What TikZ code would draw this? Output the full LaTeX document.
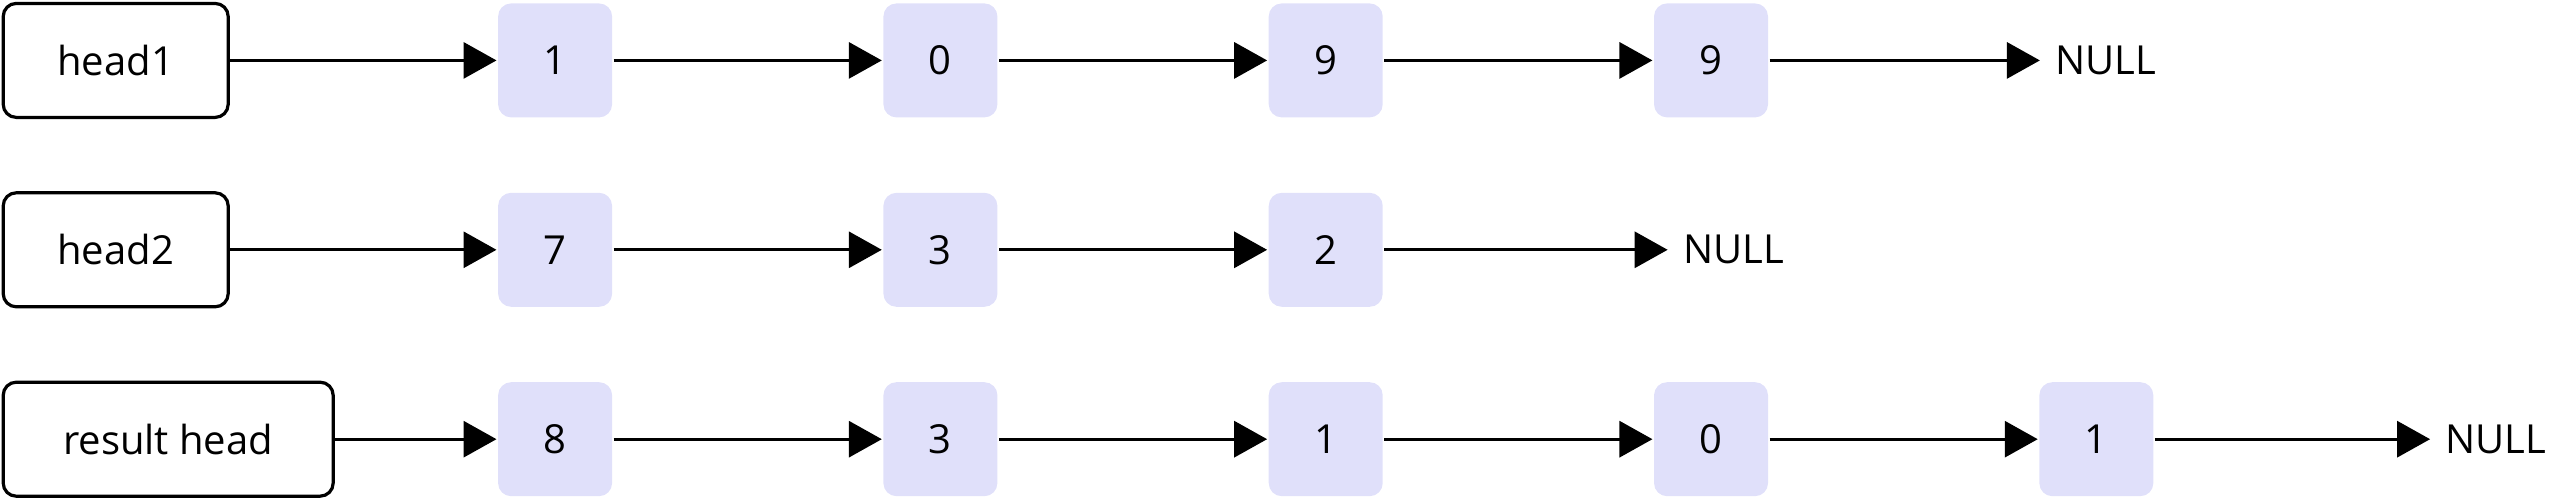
\documentclass[tikz,border=0pt]{standalone}
\usepackage{fontspec}
\setmainfont{Open Sans}
\usetikzlibrary{arrows.meta,positioning}
\definecolor{cellfill}{RGB}{224,224,250}
\tikzset{every picture/.style={line width=3.2pt}}
\tikzset{
  headbox/.style={draw=black,fill=white,rounded corners=13pt,minimum height=114pt,anchor=west,
    font=\fontsize{40}{46}\selectfont},
  cellbox/.style={fill=cellfill,rounded corners=13pt,minimum width=114pt,minimum height=114pt,
    font=\fontsize{40}{46}\selectfont},
  nulltext/.style={anchor=west,inner sep=0pt,font=\fontsize{40}{46}\selectfont},
  link/.style={-{Triangle[length=33pt,width=36pt]},line width=3.2pt}
}
\begin{document}
\begin{tikzpicture}[x=1.633pt,y=1.633pt,yscale=-1]
\useasboundingbox (0,0) rectangle (1568,307);

% first list
\node [headbox,minimum width=225pt] (h1) at (1,37) {head1};
\node [cellbox] (a1) at (340,37) {1};
\node [cellbox] (a2) at (576,37) {0};
\node [cellbox] (a3) at (812,37) {9};
\node [cellbox] (a4) at (1048,37) {9};
\node [nulltext] (n1) at (1258,37) {NULL};
\draw [link] (h1) -- (a1);
\draw [link] (a1) -- (a2);
\draw [link] (a2) -- (a3);
\draw [link] (a3) -- (a4);
\draw [link] (a4) -- ([xshift=-14pt]n1.west);

% second list
\node [headbox,minimum width=225pt] (h2) at (1,153) {head2};
\node [cellbox] (b1) at (340,153) {7};
\node [cellbox] (b2) at (576,153) {3};
\node [cellbox] (b3) at (812,153) {2};
\node [nulltext] (n2) at (1030,153) {NULL};
\draw [link] (h2) -- (b1);
\draw [link] (b1) -- (b2);
\draw [link] (b2) -- (b3);
\draw [link] (b3) -- ([xshift=-14pt]n2.west);

% result list
\node [headbox,minimum width=330pt] (h3) at (1,269) {result head};
\node [cellbox] (c1) at (340,269) {8};
\node [cellbox] (c2) at (576,269) {3};
\node [cellbox] (c3) at (812,269) {1};
\node [cellbox] (c4) at (1048,269) {0};
\node [cellbox] (c5) at (1284,269) {1};
\node [nulltext] (n3) at (1497,269) {NULL};
\draw [link] (h3) -- (c1);
\draw [link] (c1) -- (c2);
\draw [link] (c2) -- (c3);
\draw [link] (c3) -- (c4);
\draw [link] (c4) -- (c5);
\draw [link] (c5) -- ([xshift=-14pt]n3.west);
\end{tikzpicture}
\end{document}
